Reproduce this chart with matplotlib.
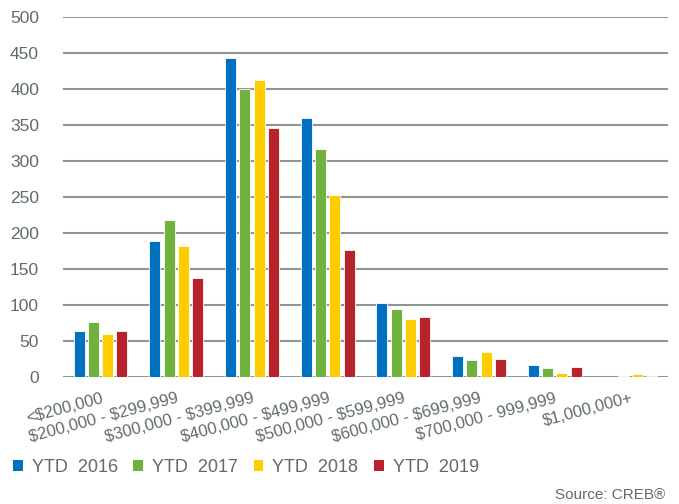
import numpy as np
import matplotlib.pyplot as plt
from matplotlib.patches import Patch

plt.rcParams['font.family'] = ['Liberation Sans', 'DejaVu Sans']
plt.rcParams['text.parse_math'] = False

# Sales by price range, YTD
categories = ["<$200,000", "$200,000 - $299,999", "$300,000 - $399,999",
              "$400,000 - $499,999", "$500,000 - $599,999", "$600,000 - $699,999",
              "$700,000 - 999,999", "$1,000,000+"]
series_names = ["YTD  2016", "YTD  2017", "YTD  2018", "YTD  2019"]
ytd_2016 = [64, 189, 443, 359, 102, 29, 17, 0]
ytd_2017 = [76, 218, 400, 317, 95, 24, 13, 2]
ytd_2018 = [60, 182, 412, 252, 81, 34, 5, 4]
ytd_2019 = [64, 138, 345, 176, 83, 25, 14, 1]
colors = ["#0070c0", "#70b23f", "#ffcc00", "#b8222b"]

text_col = "#616b6b"
grid_col = "#8a9595"

fig = plt.figure(figsize=(6.79, 5.04), dpi=100)
ax = fig.add_axes([0.0923, 0.252, 0.8917, 0.715])

x = np.arange(len(categories))
stride = 0.189
width = 0.145
for i, (vals, col, name) in enumerate(zip([ytd_2016, ytd_2017, ytd_2018, ytd_2019],
                                          colors, series_names)):
    ax.bar(x + (i - 1.5) * stride, vals, width, color=col, edgecolor="white",
           linewidth=0.6, label=name, zorder=3)

ax.set_xlim(-0.5, len(categories) - 0.5)
ax.set_ylim(0, 500)
ax.set_yticks(np.arange(0, 501, 50))
ax.yaxis.grid(True, color=grid_col, linewidth=1.5, zorder=0)
for s in ax.spines.values():
    s.set_visible(False)
ax.tick_params(axis="y", length=0, pad=17, labelsize=12.5, labelcolor=text_col)
ax.tick_params(axis="x", length=0, pad=10, labelsize=12, labelcolor=text_col)
ax.set_xticks(x)
ax.set_xticklabels(categories, rotation=15, ha="right", va="top",
                   rotation_mode="anchor")

handles = [Patch(facecolor=c, edgecolor="none") for c in colors]
fig.legend(handles, series_names, loc="center left", bbox_to_anchor=(0.019, 0.073),
           ncol=4, frameon=False, fontsize=13, labelcolor=text_col,
           handlelength=0.55, handleheight=0.55, handletextpad=0.5,
           columnspacing=0.85, borderpad=0, borderaxespad=0)

fig.text(0.98, 0.004, "Source: CREB®", ha="right", va="bottom", fontsize=11,
         color=text_col)

fig.savefig("out.png", dpi=100)
